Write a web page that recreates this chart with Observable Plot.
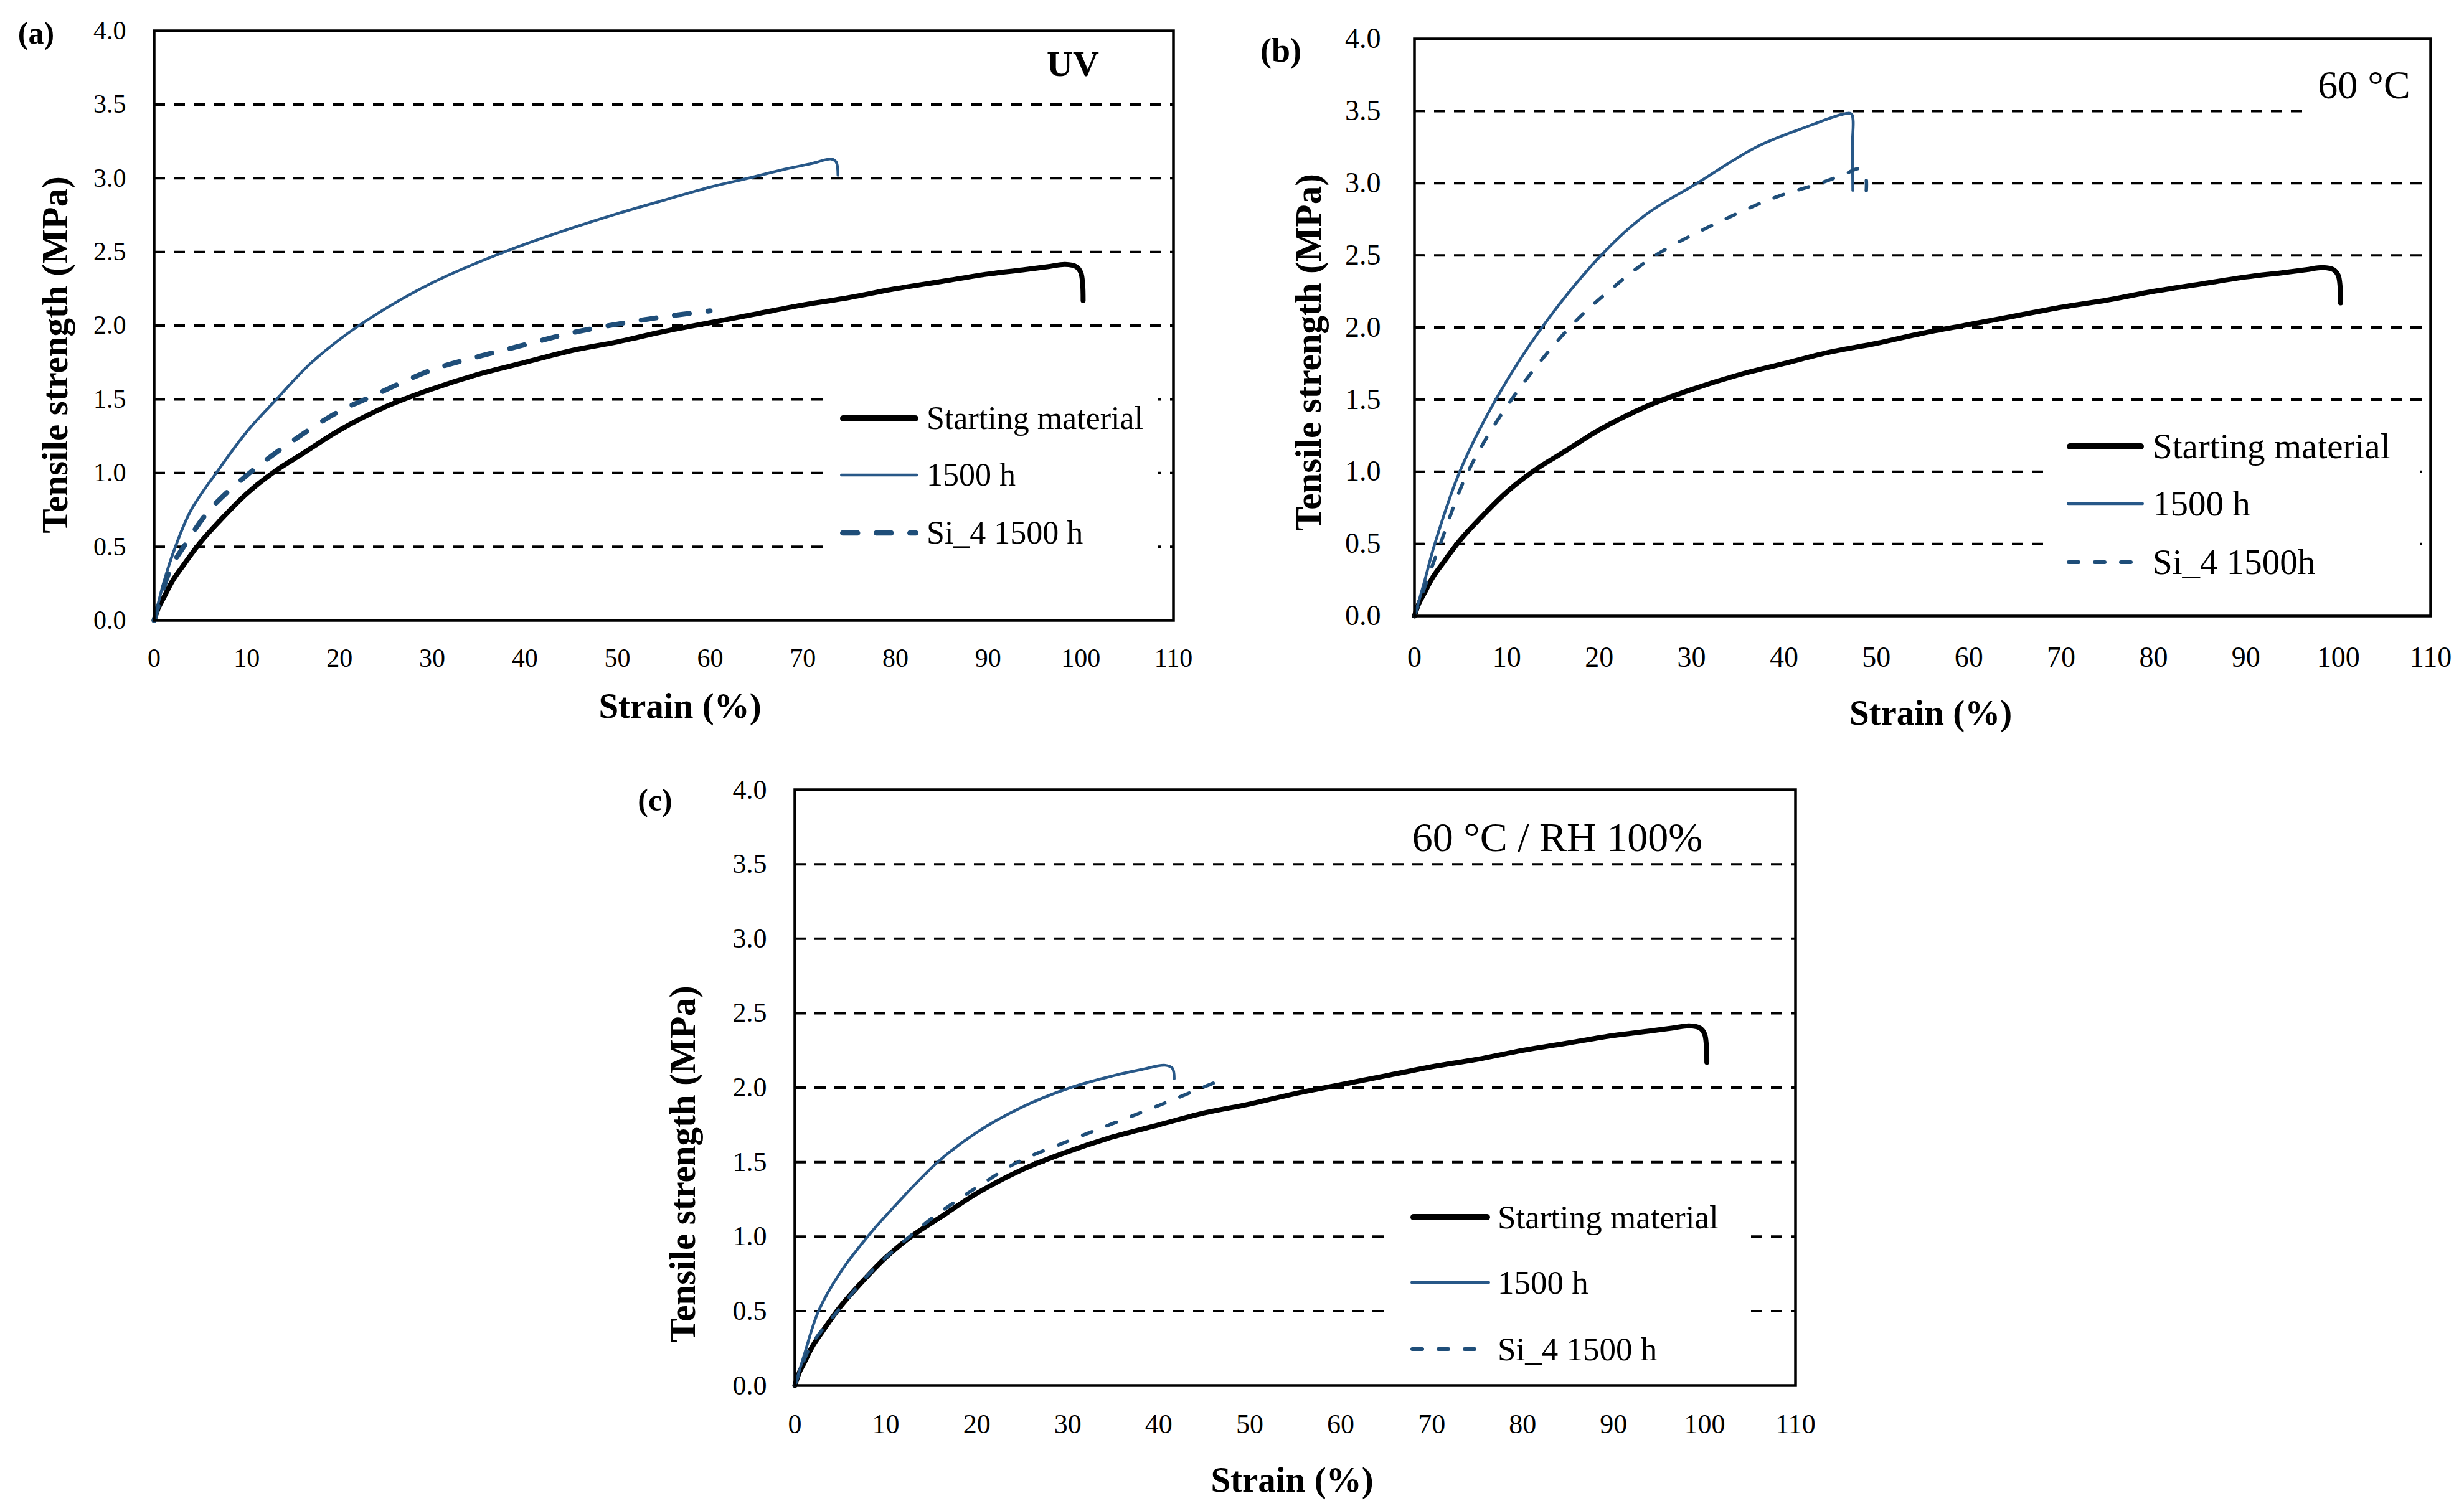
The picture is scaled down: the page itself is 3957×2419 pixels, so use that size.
<!DOCTYPE html>
<html><head><meta charset="utf-8">
<script src="https://cdn.jsdelivr.net/npm/d3@7"></script>
<script src="https://cdn.jsdelivr.net/npm/@observablehq/plot@0.6"></script>
<style>
html,body{margin:0;padding:0;background:#fff;}
#fig{position:relative;width:3957px;height:2419px;background:#fff;font-family:'Liberation Serif',serif;color:#000;overflow:hidden}
#fig svg{position:absolute;}
.t{position:absolute;white-space:nowrap;text-align:center;}
.legend{position:absolute;background:#fff;}
.row{position:absolute;left:0;display:flex;align-items:center;white-space:nowrap;}
</style></head><body><div id="fig"></div>
<script>
// ---------- data ----------
const xTicks = [0, 10, 20, 30, 40, 50, 60, 70, 80, 90, 100, 110];
const yTicks = [0, 0.5, 1.0, 1.5, 2.0, 2.5, 3.0, 3.5, 4.0];
const gridY = [0.5, 1.0, 1.5, 2.0, 2.5, 3.0, 3.5];
const seriesNames = ["Starting material", "1500 h", "Si_4 1500 h"];
const seriesNamesB = ["Starting material", "1500 h", "Si_4 1500h"];
const panelLabels = ["(a)", "(b)", "(c)"];
const panelTitles = ["UV", "60 °C", "60 °C / RH 100%"];
const xTitle = "Strain (%)";
const yTitle = "Tensile strength (MPa)";

// Starting material (same curve in all three panels)
const startStrain = [0, 0.5, 1, 2, 3, 5, 7, 10, 13, 16, 20, 25, 30, 35, 40, 45, 50, 55, 60, 65, 70, 75, 80, 85, 90, 94, 96.5, 98.3, 99.5, 100.0, 100.2, 100.25];
const startStress = [0, 0.09, 0.15, 0.27, 0.36, 0.53, 0.67, 0.86, 1.01, 1.13, 1.29, 1.45, 1.57, 1.67, 1.75, 1.83, 1.89, 1.96, 2.02, 2.08, 2.14, 2.19, 2.25, 2.30, 2.35, 2.38, 2.40, 2.415, 2.40, 2.36, 2.28, 2.17];

// (a) UV
const uvAgedStrain = [0, 1, 2.3, 4, 6.7, 10, 13.2, 17, 22.1, 30, 37.8, 45, 50, 55, 60, 64.1, 68, 71, 73.1, 73.6, 73.8];
const uvAgedStress = [0, 0.25, 0.5, 0.75, 1.0, 1.28, 1.5, 1.75, 2.0, 2.29, 2.5, 2.66, 2.76, 2.85, 2.94, 3.0, 3.06, 3.10, 3.13, 3.11, 3.02];
const uvSiStrain = [0, 1, 2, 3.2, 6, 10.3, 15, 20, 22.8, 30, 35, 40, 45, 50, 55, 60];
const uvSiStress = [0, 0.22, 0.38, 0.5, 0.75, 1.0, 1.22, 1.42, 1.5, 1.70, 1.79, 1.87, 1.95, 2.01, 2.06, 2.10];

// (b) 60 °C
const heatAgedStrain = [0, 1, 2.2, 4.9, 8.8, 13.8, 20.2, 25, 30.6, 37, 42, 46.5, 47.3, 47.4, 47.45];
const heatAgedStress = [0, 0.22, 0.5, 1.0, 1.5, 2.0, 2.5, 2.78, 3.0, 3.25, 3.38, 3.48, 3.48, 3.25, 2.95];
const heatSiStrain = [0, 1, 2.8, 5.8, 10.5, 16.8, 21, 26.1, 33.6, 39, 43.9, 46.5, 48.1, 48.8, 48.9];
const heatSiStress = [0, 0.18, 0.5, 1.0, 1.5, 2.0, 2.25, 2.5, 2.75, 2.9, 3.0, 3.06, 3.1, 3.06, 2.94];

// (c) 60 °C / RH 100%
const humidAgedStrain = [0, 1, 2.6, 5, 8, 10, 15.7, 20, 25, 30.3, 35, 38, 40.7, 41.5, 41.7];
const humidAgedStress = [0, 0.2, 0.5, 0.76, 1.0, 1.14, 1.5, 1.70, 1.87, 2.0, 2.08, 2.12, 2.15, 2.13, 2.06];
const humidSiStrain = [0, 1, 2, 4.7, 8, 10, 12.6, 15, 18, 20, 24.5, 30, 35, 40, 44, 46, 46.9, 47.0];
const humidSiStress = [0, 0.17, 0.29, 0.5, 0.74, 0.86, 1.0, 1.12, 1.25, 1.33, 1.5, 1.64, 1.76, 1.88, 1.98, 2.03, 2.05, 2.02];

// ---------- styles / layout ----------
const FONT = "'Liberation Serif', 'Times New Roman', serif";
const BLACK = "#000";
const BLUE_SOLID = "#285888";
const BLUE_DASH = "#1f4e79";

const panels = [
  { left: 0, top: 0, width: 1950, height: 1200, mt: 49, mr: 66, mb: 204, ml: 247,
    yPad: 45, xPad: 45, tickFont: 42,
    aged: [uvAgedStrain, uvAgedStress], si: [uvSiStrain, uvSiStress],
    dashW: 8, dashA: "24,30",
    xT: {dx: 26, dy: 138}, yT: {dx: -158, dy: 47},
    label: {cx: 58, cy: 53, size: 50}, title: {cx: 1723, cy: 103, size: 58, bold: true},
    legend: {x0: 1325, x1: 1860, y0: 615, y1: 905, sw0: 1349, sw1: 1475, tx: 1488, rows: [672, 763, 856], size: 52, names: seriesNames}
  },
  { left: 1960, top: 0, width: 1997, height: 1200, mt: 62, mr: 54, mb: 211, ml: 311,
    yPad: 54, xPad: 49, tickFont: 46,
    aged: [heatAgedStrain, heatAgedStress], si: [heatSiStrain, heatSiStress],
    dashW: 5.5, dashA: "16,26",
    xT: {dx: 13, dy: 156}, yT: {dx: -169, dy: 40},
    label: {cx: 2057, cy: 81, size: 54}, title: {cx: 3796, cy: 137, size: 64, bold: false, box: {x0: 3700, x1: 3893, y0: 95, y1: 192}},
    legend: {x0: 3287, x1: 3887, y0: 665, y1: 935, sw0: 3319, sw1: 3443, tx: 3457, rows: [717, 809, 903], size: 57, names: seriesNamesB}
  },
  { left: 960, top: 1210, width: 2000, height: 1209, mt: 58, mr: 77, mb: 194, ml: 316,
    yPad: 45, xPad: 45, tickFont: 44,
    aged: [humidAgedStrain, humidAgedStress], si: [humidSiStrain, humidSiStress],
    dashW: 5.5, dashA: "16,26",
    xT: {dx: -5, dy: 152}, yT: {dx: -179, dy: 123},
    label: {cx: 1052, cy: 1285, size: 50}, title: {cx: 2501, cy: 1345, size: 66, bold: false},
    legend: {x0: 2222, x1: 2800, y0: 1895, y1: 2205, sw0: 2265, sw1: 2393, tx: 2405, rows: [1955, 2060, 2167], size: 53, names: seriesNames}
  }
];

const fig = document.getElementById("fig");
const toRows = (xs, ys) => xs.map((x, i) => ({strain: x, stress: ys[i]}));

function makePanel(p, idx) {
  const svg = Plot.plot({
    width: p.width, height: p.height,
    marginTop: p.mt, marginRight: p.mr, marginBottom: p.mb, marginLeft: p.ml,
    x: {domain: [0, 110]},
    y: {domain: [0, 4]},
    style: {fontFamily: FONT, background: "transparent", color: "#000", overflow: "visible"},
    marks: [
      Plot.ruleY(gridY, {stroke: BLACK, strokeWidth: 4, strokeDasharray: "18,14"}),
      Plot.line(toRows(startStrain, startStress), {x: "strain", y: "stress", stroke: BLACK, strokeWidth: 8, curve: "catmull-rom", strokeLinejoin: "round"}),
      Plot.line(toRows(p.aged[0], p.aged[1]), {x: "strain", y: "stress", stroke: BLUE_SOLID, strokeWidth: 4.5, curve: "catmull-rom", strokeLinejoin: "round"}),
      Plot.line(toRows(p.si[0], p.si[1]), {x: "strain", y: "stress", stroke: BLUE_DASH, strokeWidth: p.dashW, strokeDasharray: p.dashA, strokeLinecap: "round", curve: "catmull-rom"}),
      Plot.frame({stroke: BLACK, strokeWidth: 4.5}),
      Plot.axisY(yTicks, {tickSize: 0, tickPadding: p.yPad, tickFormat: d3.format(".1f"), fontSize: p.tickFont, label: null}),
      Plot.axisX(xTicks, {tickSize: 0, tickPadding: p.xPad, tickFormat: d3.format("d"), fontSize: p.tickFont, label: null}),
      Plot.text([xTitle], {text: d => d, frameAnchor: "bottom", textAnchor: "middle", lineAnchor: "middle", dx: p.xT.dx, dy: p.xT.dy, fontSize: 57, fontWeight: "bold"}),
      Plot.text([yTitle], {text: d => d, frameAnchor: "left", textAnchor: "middle", lineAnchor: "middle", rotate: -90, dx: p.yT.dx, dy: p.yT.dy, fontSize: 59, fontWeight: "bold"})
    ]
  });
  svg.style.left = p.left + "px";
  svg.style.top = p.top + "px";
  fig.appendChild(svg);

  // panel label
  const lab = document.createElement("div");
  lab.className = "t";
  lab.textContent = panelLabels[idx];
  Object.assign(lab.style, {left: (p.label.cx - 100) + "px", width: "200px", top: (p.label.cy - p.label.size / 2) + "px",
    fontSize: p.label.size + "px", lineHeight: p.label.size + "px", fontWeight: "bold"});
  fig.appendChild(lab);

  // condition title
  const tt = document.createElement("div");
  tt.className = "t";
  tt.textContent = panelTitles[idx];
  if (p.title.box) {
    const b = p.title.box;
    Object.assign(tt.style, {left: b.x0 + "px", width: (b.x1 - b.x0) + "px", top: b.y0 + "px", height: (b.y1 - b.y0) + "px",
      background: "#fff", fontSize: p.title.size + "px", lineHeight: (2 * (p.title.cy - b.y0)) + "px"});
  } else {
    Object.assign(tt.style, {left: (p.title.cx - 400) + "px", width: "800px", top: (p.title.cy - p.title.size / 2) + "px",
      fontSize: p.title.size + "px", lineHeight: p.title.size + "px"});
  }
  if (p.title.bold) tt.style.fontWeight = "bold";
  fig.appendChild(tt);

  // legend
  const L = p.legend;
  const box = document.createElement("div");
  box.className = "legend";
  Object.assign(box.style, {left: L.x0 + "px", top: L.y0 + "px", width: (L.x1 - L.x0) + "px", height: (L.y1 - L.y0) + "px"});
  const styles = [
    {stroke: BLACK, w: 10, dash: null, cap: "round"},
    {stroke: BLUE_SOLID, w: 4.5, dash: null, cap: "round"},
    {stroke: BLUE_DASH, w: p.dashW + 0.5, dash: p.dashA, cap: "round"}
  ];
  L.names.forEach((name, i) => {
    const row = document.createElement("div");
    row.className = "row";
    const h = 70;
    Object.assign(row.style, {top: (L.rows[i] - L.y0 - h / 2) + "px", height: h + "px", left: (L.sw0 - L.x0) + "px"});
    const sw = L.sw1 - L.sw0;
    const s = styles[i];
    const ns = "http://www.w3.org/2000/svg";
    const svgS = document.createElementNS(ns, "svg");
    svgS.setAttribute("width", sw);
    svgS.setAttribute("height", h);
    svgS.style.position = "static";
    const ln = document.createElementNS(ns, "line");
    ln.setAttribute("x1", s.w / 2); ln.setAttribute("x2", sw - s.w / 2);
    ln.setAttribute("y1", h / 2); ln.setAttribute("y2", h / 2);
    ln.setAttribute("stroke", s.stroke); ln.setAttribute("stroke-width", s.w);
    ln.setAttribute("stroke-linecap", s.cap);
    if (s.dash) ln.setAttribute("stroke-dasharray", s.dash);
    svgS.appendChild(ln);
    row.appendChild(svgS);
    const tx = document.createElement("span");
    tx.textContent = name;
    Object.assign(tx.style, {marginLeft: (L.tx - L.sw1) + "px", fontSize: L.size + "px", lineHeight: h + "px"});
    row.appendChild(tx);
    box.appendChild(row);
  });
  fig.appendChild(box);
}

panels.forEach(makePanel);
</script>
</body></html>
